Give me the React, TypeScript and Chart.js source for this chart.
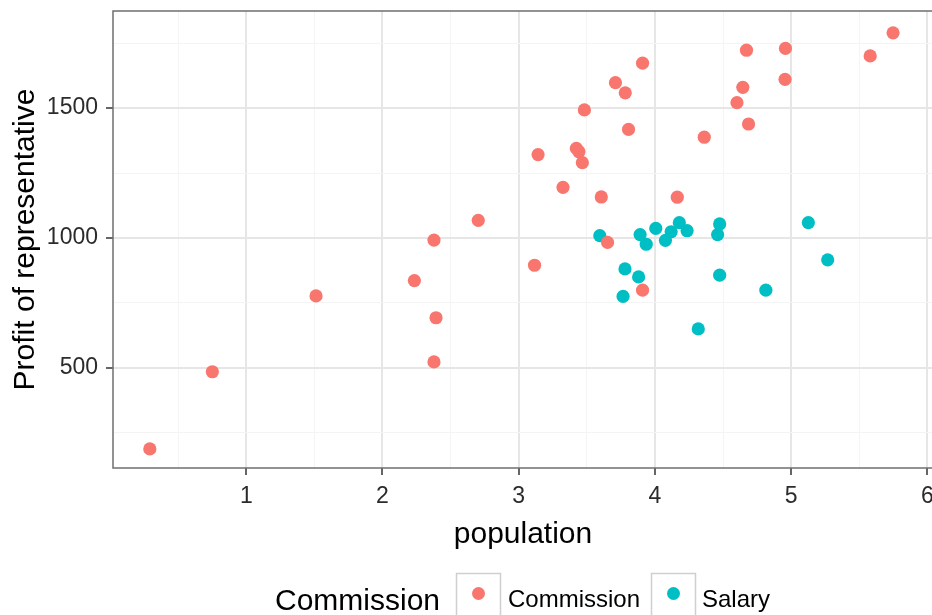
import React, { useEffect, useRef } from "react";
import { Chart, registerables } from "chart.js";

Chart.register(...registerables);

// ---- data ----
const commissionX = [
  0.292, 0.751, 1.512, 2.234, 2.378, 2.393, 2.378, 2.703, 3.116, 3.142, 3.325,
  3.423, 3.442, 3.467, 3.482, 3.606, 3.652, 3.710, 3.782, 3.806, 3.909, 3.909,
  4.164, 4.362, 4.602, 4.645, 4.672, 4.687, 4.955, 4.958, 5.580, 5.748,
];
const commissionY = [
  188, 485, 777, 836, 992, 693, 523, 1068, 895, 1321, 1195,
  1345, 1332, 1290, 1493, 1158, 983, 1598, 1559, 1418, 1673, 799,
  1157, 1388, 1521, 1580, 1723, 1439, 1611, 1730, 1701, 1790,
];
const salaryX = [
  3.595, 3.780, 3.880, 3.766, 3.891, 3.936, 4.006, 4.077, 4.119, 4.179,
  4.236, 4.475, 4.460, 4.475, 4.318, 4.814, 5.126, 5.268,
];
const salaryY = [
  1009, 881, 850, 775, 1013, 976, 1037, 991, 1024, 1059,
  1028, 1054, 1013, 857, 650, 799, 1059, 916,
];

const xTickValues = [0.5, 1, 1.5, 2, 2.5, 3, 3.5, 4, 4.5, 5, 5.5, 6];
const xMajorTicks = [1, 2, 3, 4, 5, 6];
const yTickValues = [250, 500, 750, 1000, 1250, 1500, 1750];
const yMajorTicks = [500, 1000, 1500];

const xAxisTitle = "population";
const yAxisTitle = "Profit of representative";
const legendTitle = "Commission";
const seriesNames = ["Commission", "Salary"];
const seriesColors = ["#F8766D", "#00BFC4"];

const FONT = '"Liberation Sans", Arial, Helvetica, sans-serif';

const decorPlugin = {
  id: "decor",
  afterDraw(chart: any) {
    const { ctx, chartArea: a } = chart;
    ctx.save();
    // panel border
    ctx.strokeStyle = "#6f6f6f";
    ctx.lineWidth = 1.5;
    ctx.strokeRect(a.left, a.top, a.right - a.left, a.bottom - a.top);

    // y axis title
    ctx.fillStyle = "#000";
    ctx.font = `30px ${FONT}`;
    ctx.textAlign = "center";
    ctx.textBaseline = "middle";
    ctx.save();
    ctx.translate(26, (a.top + a.bottom) / 2);
    ctx.rotate(-Math.PI / 2);
    ctx.fillText(yAxisTitle, 0, 0);
    ctx.restore();

    // x axis title
    ctx.textBaseline = "alphabetic";
    ctx.fillText(xAxisTitle, 523, 543);

    // legend
    ctx.textAlign = "left";
    ctx.fillText(legendTitle, 275, 610);
    const boxes = [456.5, 651.5];
    const labelX = [508, 702];
    boxes.forEach((bx, i) => {
      ctx.fillStyle = "#fff";
      ctx.fillRect(bx, 573.5, 44, 50);
      ctx.strokeStyle = "#cfcfcf";
      ctx.lineWidth = 1.5;
      ctx.strokeRect(bx, 573.5, 44, 50);
      ctx.fillStyle = seriesColors[i];
      ctx.beginPath();
      ctx.arc(bx + 22, 593.5, 6.5, 0, Math.PI * 2);
      ctx.fill();
      ctx.fillStyle = "#000";
      ctx.font = `24px ${FONT}`;
      ctx.fillText(seriesNames[i], labelX[i], 607);
    });
    ctx.restore();
  },
};

export default function App() {
  const ref = useRef<HTMLCanvasElement | null>(null);

  useEffect(() => {
    if (!ref.current) return;
    const chart = new Chart(ref.current, {
      type: "scatter",
      data: {
        datasets: [
          {
            label: seriesNames[0],
            data: commissionX.map((x, i) => ({ x, y: commissionY[i] })),
            backgroundColor: seriesColors[0],
            borderWidth: 0,
            pointRadius: 6.6,
          },
          {
            label: seriesNames[1],
            data: salaryX.map((x, i) => ({ x, y: salaryY[i] })),
            backgroundColor: seriesColors[1],
            borderWidth: 0,
            pointRadius: 6.6,
          },
        ],
      },
      options: {
        responsive: false,
        animation: false,
        events: [],
        devicePixelRatio: 1,
        layout: { padding: { top: 11, right: 4, left: 0, bottom: 0 } },
        plugins: {
          legend: { display: false },
          tooltip: { enabled: false },
        },
        scales: {
          x: {
            type: "linear",
            min: 0.0217,
            max: 6.044,
            afterBuildTicks: (s: any) => {
              s.ticks = xTickValues.map((v) => ({ value: v }));
            },
            afterFit: (s: any) => {
              s.height = 147;
              s.paddingLeft = 0;
              s.paddingRight = 0;
              s.paddingTop = 0;
              s.paddingBottom = 0;
            },
            border: { display: false },
            grid: {
              color: (c: any) =>
                c.tick && xMajorTicks.includes(c.tick.value) ? "#E6E6E6" : "#F4F4F4",
              lineWidth: (c: any) =>
                c.tick && xMajorTicks.includes(c.tick.value) ? 2 : 1,
              tickColor: (c: any) =>
                c.tick && xMajorTicks.includes(c.tick.value) ? "#333333" : "rgba(0,0,0,0)",
              tickWidth: 1.5,
              tickLength: 7,
            },
            ticks: {
              autoSkip: false,
              maxRotation: 0,
              padding: 8,
              color: "#2b2b2b",
              font: { family: FONT, size: 23 },
              callback: (v: any) => (xMajorTicks.includes(Number(v)) ? String(v) : ""),
            },
          },
          y: {
            type: "linear",
            min: 114.4,
            max: 1874,
            afterBuildTicks: (s: any) => {
              s.ticks = yTickValues.map((v) => ({ value: v }));
            },
            afterFit: (s: any) => {
              s.width = 113;
              s.paddingLeft = 0;
              s.paddingRight = 0;
              s.paddingTop = 0;
              s.paddingBottom = 0;
            },
            border: { display: false },
            grid: {
              color: (c: any) =>
                c.tick && yMajorTicks.includes(c.tick.value) ? "#E6E6E6" : "#F4F4F4",
              lineWidth: (c: any) =>
                c.tick && yMajorTicks.includes(c.tick.value) ? 2 : 1,
              tickColor: (c: any) =>
                c.tick && yMajorTicks.includes(c.tick.value) ? "#333333" : "rgba(0,0,0,0)",
              tickWidth: 1.5,
              tickLength: 7,
            },
            ticks: {
              autoSkip: false,
              padding: 8,
              color: "#2b2b2b",
              font: { family: FONT, size: 23 },
              callback: (v: any) => (yMajorTicks.includes(Number(v)) ? String(v) : ""),
            },
          },
        },
      } as any,
      plugins: [decorPlugin],
    });
    return () => chart.destroy();
  }, []);

  return (
    <div
      style={{
        position: "fixed",
        left: 0,
        top: 0,
        width: 932,
        height: 615,
        overflow: "hidden",
        background: "#fff",
      }}
    >
      <canvas ref={ref} width={940} height={615} style={{ width: 940, height: 615, display: "block" }} />
    </div>
  );
}
